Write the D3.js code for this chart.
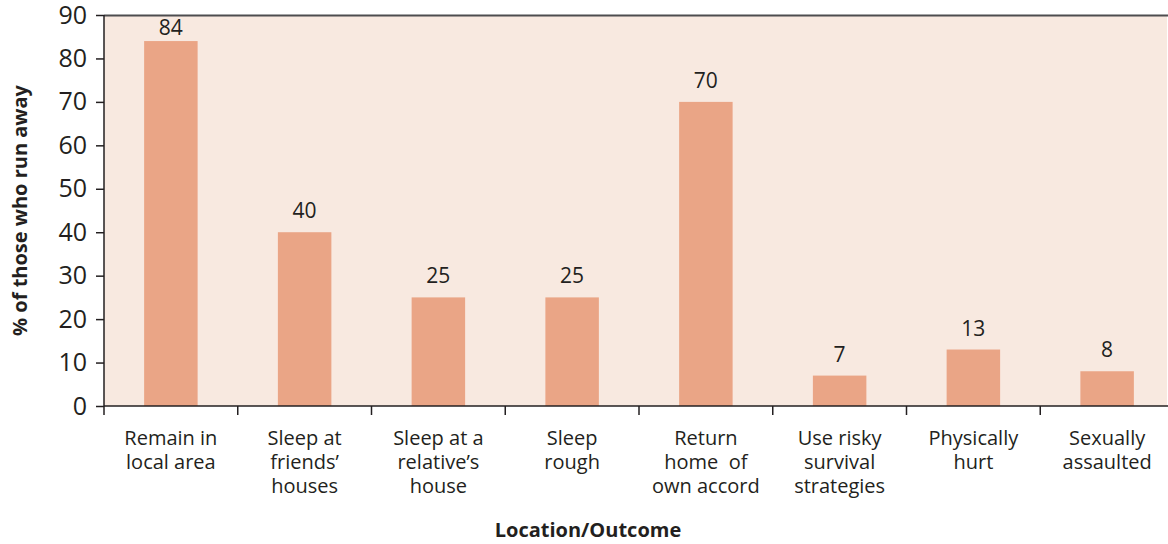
<!DOCTYPE html>
<html>
<head>
<meta charset="utf-8">
<script src="https://cdn.jsdelivr.net/npm/d3@7"></script>
<style>
    body { margin: 0; background: #fff; }
    svg text { font-family: "Open Sans", "Noto Sans", sans-serif; fill: #231f20; }
</style>
</head>
<body>
<div id="chart"></div>
<script>
// data
var categories = [
    "Remain in|local area",
    "Sleep at|friends’|houses",
    "Sleep at a|relative’s|house",
    "Sleep|rough",
    "Return|home  of|own accord",
    "Use risky|survival|strategies",
    "Physically|hurt",
    "Sexually|assaulted"
];
var values = [84, 40, 25, 25, 70, 7, 13, 8];
var yTicks = [0, 10, 20, 30, 40, 50, 60, 70, 80, 90];
var yTitle = "% of those who run away";
var xTitle = "Location/Outcome";

var width = 1168, height = 544;
var margin = { top: 15, right: -6, bottom: 138, left: 104 };
var plotW = width - margin.left - margin.right,
    plotH = height - margin.top - margin.bottom;

var svg = d3.select("#chart")
    .append("svg")
    .attr("width", width)
    .attr("height", height);

var g = svg.append("g")
    .attr("transform", "translate(" + margin.left + "," + margin.top + ")");

var x = d3.scaleBand()
    .domain(categories)
    .range([0, plotW])
    .paddingInner(0.6)
    .paddingOuter(0.3);

var y = d3.scaleLinear()
    .domain([0, 90])
    .range([plotH, 0]);

// plot background
g.append("rect")
    .attr("x", 0)
    .attr("y", 0)
    .attr("width", width - margin.left - 1)
    .attr("height", plotH)
    .style("fill", "#f8e9e0");

// top border line
g.append("line")
    .attr("x1", 0)
    .attr("x2", width - margin.left)
    .attr("y1", 0.5)
    .attr("y2", 0.5)
    .style("stroke", "#4d4d4f")
    .style("stroke-width", 2);

// bars
g.selectAll("rect.bar")
    .data(values)
    .enter()
    .append("rect")
    .attr("class", "bar")
    .attr("x", function (d, i) { return x(categories[i]); })
    .attr("y", function (d) { return y(d); })
    .attr("width", x.bandwidth())
    .attr("height", function (d) { return plotH - y(d); })
    .style("fill", "#eaa586");

// value labels (kept below the top border when the bar is tall)
g.selectAll("text.val")
    .data(values)
    .enter()
    .append("text")
    .attr("class", "val")
    .attr("text-anchor", "middle")
    .attr("x", function (d, i) { return x(categories[i]) + x.bandwidth() / 2; })
    .attr("y", function (d) { return Math.max(y(d) - 14, 20); })
    .style("font-size", "21px")
    .text(function (d) { return d; });

// y axis
var yAxis = g.append("g")
    .call(d3.axisLeft(y).tickValues(yTicks).tickSize(8).tickPadding(9));
yAxis.selectAll("text").style("font-size", "25px");
yAxis.selectAll("line, path").style("stroke", "#231f20").style("stroke-width", 1.5);
yAxis.select(".domain").attr("d", "M0," + plotH + "V0");

// x axis: ticks at band boundaries
var step = x.step();
var bounds = categories.map(function (c) { return x(c) - (step - x.bandwidth()) / 2; });
g.append("line")
    .attr("x1", 0)
    .attr("x2", width - margin.left)
    .attr("y1", plotH)
    .attr("y2", plotH)
    .style("stroke", "#231f20")
    .style("stroke-width", 1.5);
g.selectAll("line.xtick")
    .data(bounds)
    .enter()
    .append("line")
    .attr("class", "xtick")
    .attr("x1", function (d) { return d; })
    .attr("x2", function (d) { return d; })
    .attr("y1", plotH)
    .attr("y2", plotH + 9)
    .style("stroke", "#231f20")
    .style("stroke-width", 1.5);

// category labels, one text per line
g.selectAll("g.cat")
    .data(categories)
    .enter()
    .append("g")
    .attr("class", "cat")
    .attr("transform", function (d) { return "translate(" + (x(d) + x.bandwidth() / 2) + "," + (plotH + 39) + ")"; })
    .each(function (d) {
        var t = d3.select(this);
        d.split("|").forEach(function (line, i) {
            t.append("text")
                .attr("text-anchor", "middle")
                .attr("y", i * 24)
                .style("font-size", "20px")
                .style("white-space", "pre")
                .text(line);
        });
    });

// axis titles
svg.append("text")
    .attr("text-anchor", "middle")
    .attr("x", 588)
    .attr("y", 537)
    .style("font-size", "20px")
    .style("font-weight", "bold")
    .text(xTitle);

svg.append("text")
    .attr("text-anchor", "middle")
    .attr("transform", "translate(27," + (margin.top + plotH / 2) + ") rotate(-90)")
    .style("font-size", "20px")
    .style("font-weight", "bold")
    .text(yTitle);
</script>
</body>
</html>
